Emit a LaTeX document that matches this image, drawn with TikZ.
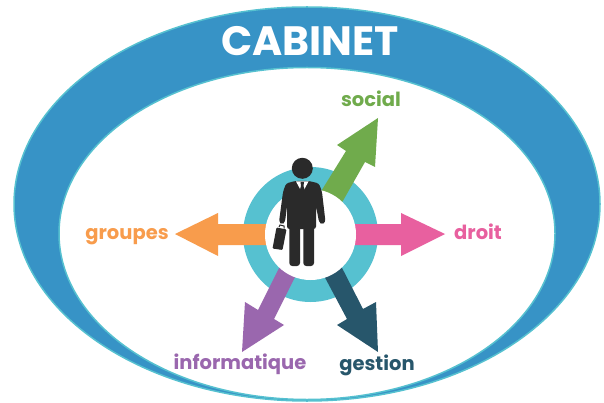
\documentclass[tikz,border=0pt]{standalone}
\usepackage{fontspec}
\setmainfont{Poppins}
\definecolor{cabinetblue}{HTML}{3793C6}
\definecolor{ringteal}{HTML}{56C1D0}
\definecolor{socialgreen}{HTML}{70AB4C}
\definecolor{droitpink}{HTML}{E8609F}
\definecolor{groupesorange}{HTML}{F89C4C}
\definecolor{infopurple}{HTML}{9A67AE}
\definecolor{gestiondark}{HTML}{27566B}
\definecolor{mangray}{HTML}{2A2A2A}
\tikzset{
    lbl/.style={anchor=base,font=\bfseries\fontsize{19.5}{19.5}\selectfont},
}
\begin{document}
\begin{tikzpicture}[x=1pt,y=-1pt]
    \useasboundingbox(0,0)rectangle(604,403);

    \draw[ringteal,line width=1.5pt,fill=cabinetblue](307,204)ellipse[x radius=293,y radius=197];
    \draw[ringteal,line width=1.5pt,fill=white](307,233.5)ellipse[x radius=248,y radius=166];
    \node[white,font=\fontsize{41}{41}\selectfont\bfseries](cabinet)at(310,41){CABINET};

    \fill[ringteal](310.5,234.5)circle[radius=67.5];

    \fill[socialgreen](320,193)--(346,151)--(337,145)--(378,118)--(375,167)--(365,162)--(340,206)--cycle;
    \fill[droitpink](340,224)--(401,224)--(401,213)--(445,234)--(401,256)--(401,245)--(340,245)--cycle;
    \fill[groupesorange](280,224)--(218,224)--(218,213)--(175,234)--(218,256)--(218,245)--(280,245)--cycle;
    \fill[infopurple](283,260)--(258,310)--(245,302)--(242,352)--(284,325)--(274,319)--(299,269)--cycle;
    \fill[gestiondark](338,260)--(363,309)--(376,302)--(378,352)--(337,325)--(347,319)--(322,272)--cycle;

    \fill[white](310.5,234.5)circle[radius=45.5];

    \fill[mangray](302.3,168.3)circle[radius=10.5];
    \fill[mangray,rounded corners=2.5pt](295,181)--(286,183.5)--(283,192)--(279,222)--(282,224.5)--(285,222)--(287,206)--(287,229)--(316,229)--(316,206)--(319,222)--(322,224.5)--(325.5,222)--(322,192)--(319,183.5)--(309,181)--cycle;
    \fill[mangray,rounded corners=3pt](289.3,225)rectangle(300,266);
    \fill[mangray,rounded corners=3pt](303.3,225)rectangle(314,266);
    \fill[white](296,181.5)--(308.5,181.5)--(302.3,193)--cycle;
    \fill[mangray](300.5,182)--(304,182)--(303.5,186)--(305,191)--(302.3,194)--(299.5,191)--(301,186)--cycle;
    \fill[mangray,rounded corners=1pt](276.5,227.5)--(286.5,229.5)--(282.5,250)--(272.5,248.5)--cycle;
    \draw[mangray,line width=1pt](279,227)--(280,225)--(284,226)--(284,228.5);

    \node[lbl,socialgreen](social)at(371,106.7){social};
    \node[lbl,droitpink](droit)at(478,239){droit};
    \node[lbl,groupesorange](groupes)at(127,239){groupes};
    \node[lbl,infopurple](informatique)at(240,369){informatique};
    \node[lbl,gestiondark](gestion)at(377,370){gestion};
\end{tikzpicture}
\end{document}
